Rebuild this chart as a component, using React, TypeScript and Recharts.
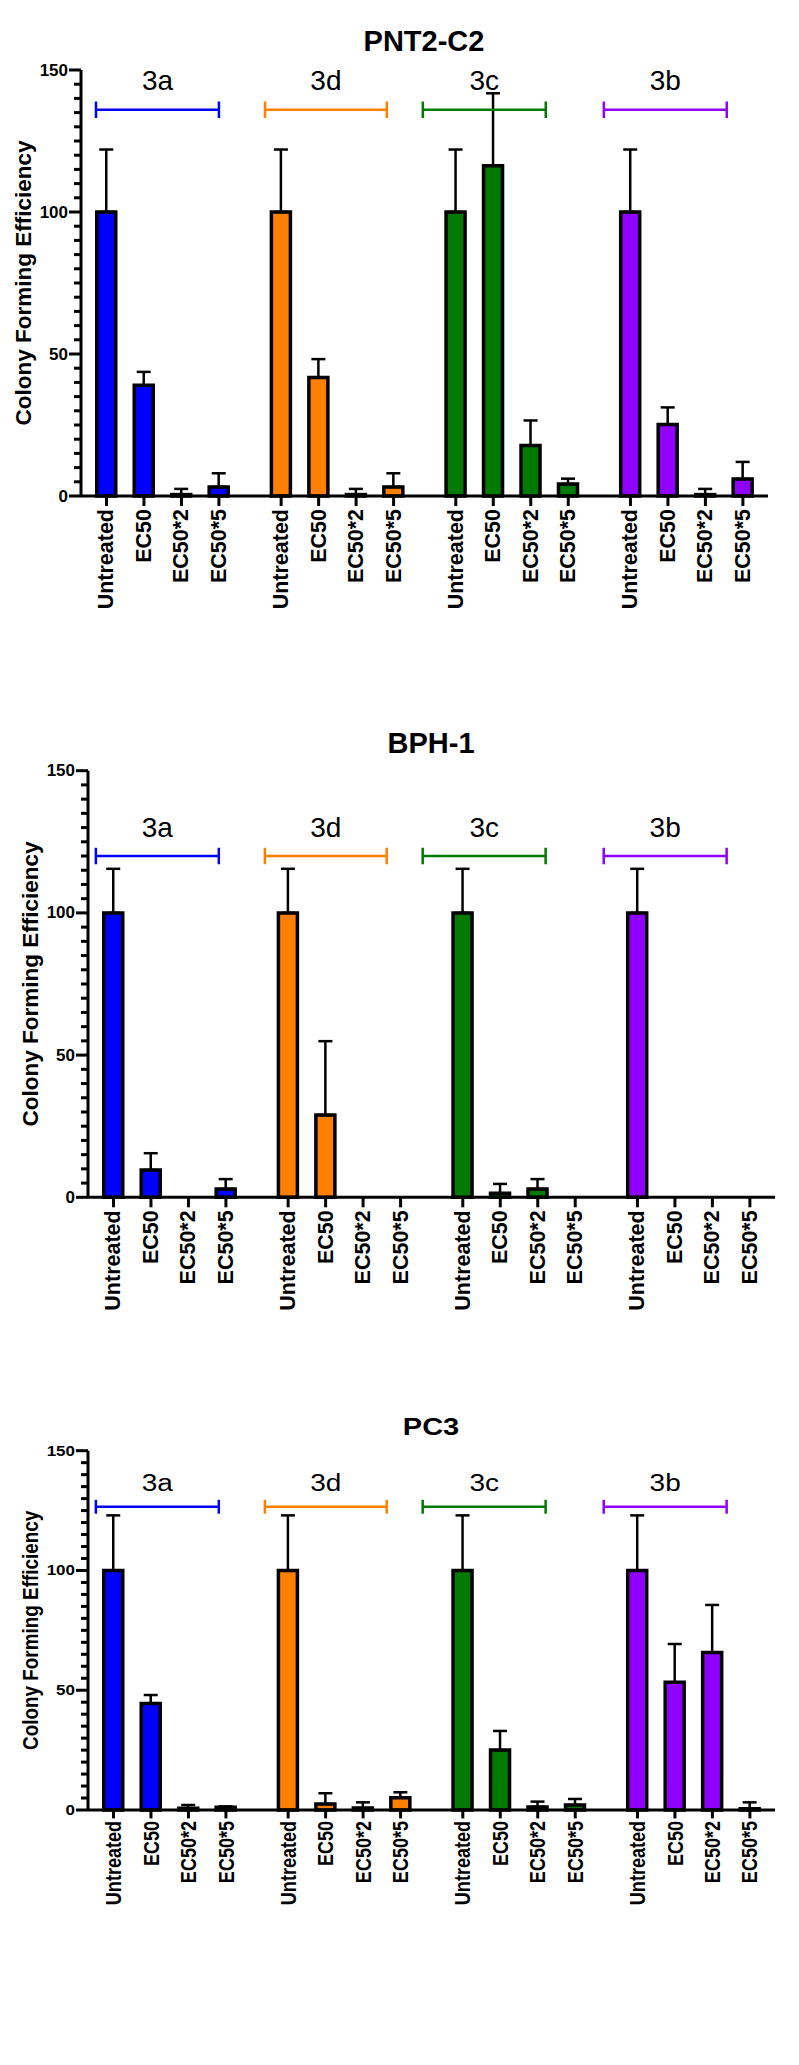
import React from 'react'
import { BarChart, Bar, XAxis, YAxis, Cell, ErrorBar, ReferenceLine, ReferenceDot } from 'recharts'

const categories = ['Untreated', 'EC50', 'EC50*2', 'EC50*5']
const compounds = ['3a', '3d', '3c', '3b']
const compoundColors = ['#0000FF', '#FF8000', '#007A00', '#8F00FF']
const yMajorTicks = [0, 50, 100, 150]

// PNT2-C2
const pnt2Mean = [
  [100, 39, 0.5, 3.2],
  [100, 41.7, 0.5, 3.2],
  [100, 116.3, 17.8, 4.2],
  [100, 25.2, 0.5, 6.0],
]
const pnt2Err = [
  [22, 4.7, 2, 4.8],
  [22, 6.5, 2, 4.8],
  [22, 25.5, 8.8, 1.9],
  [22, 6, 2, 6],
]

// BPH-1
const bphMean = [
  [100, 9.6, 0, 2.9],
  [100, 28.9, 0, 0],
  [100, 1.4, 2.9, 0],
  [100, 0, 0, 0],
]
const bphErr = [
  [15.5, 5.9, 0, 3.5],
  [15.5, 26, 0, 0],
  [15.5, 3.3, 3.5, 0],
  [15.5, 0, 0, 0],
]

// PC3
const pc3Mean = [
  [100, 44.5, 0.7, 1.2],
  [100, 2.5, 0.8, 5.1],
  [100, 25, 1.3, 2.1],
  [100, 53.3, 65.8, 0.5],
]
const pc3Err = [
  [23, 3.5, 1.4, 0.3],
  [23, 4.5, 2.4, 2.3],
  [23, 8, 2.2, 2.5],
  [23, 16, 19.8, 2.7],
]

// bracket spans over each compound group, in x-axis units
const bracketsTop = [[-0.28, 3.0], [4.23, 7.48], [8.44, 11.72], [13.27, 16.55]]
const bracketsLower = [[-0.47, 2.81], [4.04, 7.29], [8.25, 11.53], [13.08, 16.36]]

const GROUP_STRIDE = 4.66
const X_DOMAIN = [-0.68, 17.65]
const X_AXIS_H = 120
const FONT = 'Liberation Sans, Arial, sans-serif'

const panels = [
  { title: 'PNT2-C2', mean: pnt2Mean, err: pnt2Err, brackets: bracketsTop, bracketY: 136,
    top: 0, height: 650, plotTop: 70, plotBottom: 496, plotLeft: 81, plotRight: 768, titleX: 424, titleY: 51, sy: 1 },
  { title: 'BPH-1', mean: bphMean, err: bphErr, brackets: bracketsLower, bracketY: 120,
    top: 700, height: 650, plotTop: 770.7, plotBottom: 1197.3, plotLeft: 88, plotRight: 775, titleX: 431, titleY: 753, sy: 1 },
  { title: 'PC3', mean: pc3Mean, err: pc3Err, brackets: bracketsLower, bracketY: 126.6,
    top: 1380, height: 685, plotTop: 1450.7, plotBottom: 1810, plotLeft: 88, plotRight: 775, titleX: 431, titleY: 1435, sy: 0.84 },
]

const minorTicks = Array.from({ length: 31 }, (_, i) => i * 5)

function XTick(props: any) {
  const { x, y, payload, labels, sy } = props
  return (
    <g>
      <line x1={x} x2={x} y1={y} y2={y + 10 * sy} stroke="#000" strokeWidth={3} />
      <text
        transform={`translate(${x},${y + 13 * sy}) scale(1,${sy}) rotate(-90)`}
        textAnchor="end"
        dominantBaseline="central"
        fontFamily={FONT}
        fontWeight="bold"
        fontSize={21.5}
        fill="#000"
      >
        {labels[payload.value]}
      </text>
    </g>
  )
}

function YTick(props: any) {
  const { x, y, payload, sy } = props
  const v = payload.value
  const major = yMajorTicks.includes(v)
  const len = major ? 12 : 7
  return (
    <g>
      <line x1={x - len} x2={x} y1={y} y2={y} stroke="#000" strokeWidth={3} />
      {major && (
        <text
          transform={`translate(${x - len - 1},${y}) scale(1,${sy})`}
          textAnchor="end"
          dominantBaseline="central"
          fontFamily={FONT}
          fontWeight="bold"
          fontSize={17}
          fill="#000"
        >
          {v}
        </text>
      )}
    </g>
  )
}

function Panel({ cfg }: { cfg: any }) {
  const data = compounds.flatMap((c, g) =>
    categories.map((cat, i) => ({
      pos: +(g * GROUP_STRIDE + i).toFixed(2),
      label: cat,
      value: cfg.mean[g][i],
      err: [0, cfg.err[g][i]],
      color: compoundColors[g],
    }))
  )
  const labels: Record<number, string> = {}
  data.forEach(d => { labels[d.pos] = d.label })

  const capH = 2.9
  return (
    <div style={{ position: 'absolute', left: 0, top: cfg.top }}>
      <BarChart
        width={799}
        height={cfg.height}
        data={data}
        margin={{
          top: cfg.plotTop - cfg.top,
          right: 799 - cfg.plotRight,
          bottom: cfg.top + cfg.height - cfg.plotBottom - X_AXIS_H,
          left: 0,
        }}
      >
        <XAxis
          type="number"
          dataKey="pos"
          domain={X_DOMAIN}
          ticks={data.map(d => d.pos)}
          interval={0}
          height={X_AXIS_H}
          axisLine={{ stroke: '#000', strokeWidth: 3 }}
          tickLine={false}
          tickSize={0}
          tickMargin={0}
          tick={<XTick labels={labels} sy={cfg.sy} />}
          allowDataOverflow
        />
        <YAxis
          type="number"
          domain={[0, 150]}
          ticks={minorTicks}
          interval={0}
          width={cfg.plotLeft}
          axisLine={{ stroke: '#000', strokeWidth: 3 }}
          tickLine={false}
          tickSize={0}
          tickMargin={0}
          tick={<YTick sy={cfg.sy} />}
        />
        <Bar dataKey="value" barSize={19} stroke="#000" strokeWidth={3.5} isAnimationActive={false}>
          {data.map((d, i) => (
            <Cell key={i} fill={d.color} />
          ))}
          <ErrorBar dataKey="err" width={7} stroke="#000" strokeWidth={2.5} direction="y" />
        </Bar>
        {cfg.brackets.map(([s, e]: number[], g: number) => (
          <ReferenceLine key={`h${g}`} segment={[{ x: s, y: cfg.bracketY }, { x: e, y: cfg.bracketY }]}
            stroke={compoundColors[g]} strokeWidth={2.5} ifOverflow="visible" />
        ))}
        {cfg.brackets.map(([s]: number[], g: number) => (
          <ReferenceLine key={`l${g}`} segment={[{ x: s, y: cfg.bracketY - capH }, { x: s, y: cfg.bracketY + capH }]}
            stroke={compoundColors[g]} strokeWidth={2.5} ifOverflow="visible" />
        ))}
        {cfg.brackets.map(([, e]: number[], g: number) => (
          <ReferenceLine key={`r${g}`} segment={[{ x: e, y: cfg.bracketY - capH }, { x: e, y: cfg.bracketY + capH }]}
            stroke={compoundColors[g]} strokeWidth={2.5} ifOverflow="visible" />
        ))}
        {cfg.brackets.map(([s, e]: number[], g: number) => (
          <ReferenceDot
            key={`t${g}`}
            x={(s + e) / 2}
            y={cfg.bracketY}
            r={0}
            ifOverflow="visible"
            shape={(p: any) => (
              <text
                transform={`translate(${p.cx},${p.cy - 29 * cfg.sy}) scale(1,${cfg.sy})`}
                textAnchor="middle"
                dominantBaseline="central"
                fontFamily={FONT}
                fontSize={28}
                fill="#000"
              >
                {compounds[g]}
              </text>
            )}
          />
        ))}
      </BarChart>
    </div>
  )
}

export default function App() {
  return (
    <div style={{ position: 'absolute', left: 0, top: 0, width: 799, height: 2065, background: '#fff', overflow: 'hidden' }}>
      {panels.map(p => (
        <Panel key={p.title} cfg={p} />
      ))}
      <svg width={799} height={2065} style={{ position: 'absolute', left: 0, top: 0, pointerEvents: 'none' }}>
        {panels.map(p => (
          <g key={p.title}>
            <text
              transform={`translate(${p.titleX},${p.titleY}) scale(1,${p.sy})`}
              textAnchor="middle"
              fontFamily={FONT}
              fontWeight="bold"
              fontSize={29}
              fill="#000"
            >
              {p.title}
            </text>
            <text
              transform={`translate(${p.plotLeft - 58},${(p.plotTop + p.plotBottom) / 2}) scale(1,${p.sy}) rotate(-90)`}
              textAnchor="middle"
              dominantBaseline="central"
              fontFamily={FONT}
              fontWeight="bold"
              fontSize={22.5}
              fill="#000"
            >
              Colony Forming Efficiency
            </text>
          </g>
        ))}
      </svg>
    </div>
  )
}
